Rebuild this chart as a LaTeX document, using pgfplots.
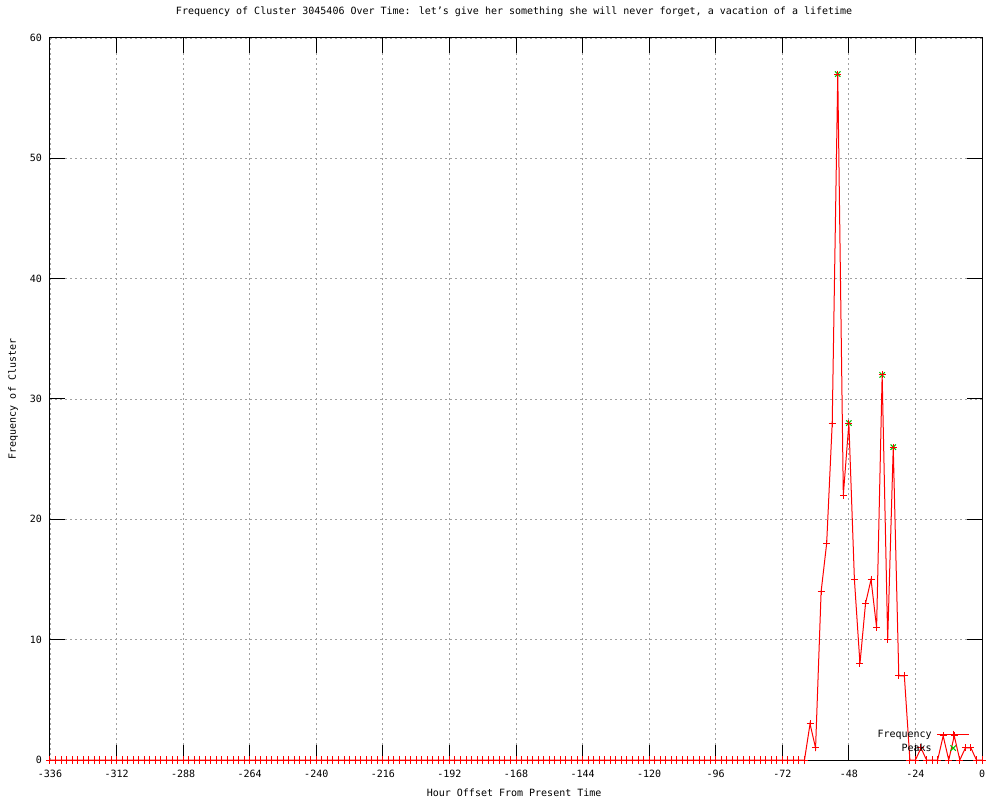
\documentclass[border=0pt]{standalone}
\usepackage{fontspec}
\setmainfont{DejaVu Sans Mono}
\usepackage{pgfplots}
\pgfplotsset{compat=1.18}
\definecolor{gpred}{RGB}{255,0,0}
\definecolor{gpgreen}{RGB}{0,192,0}
\definecolor{gpgrid}{RGB}{160,160,160}
\pgfplotsset{
  major tick length=15bp,
  freqleg/.style={legend image code/.code={\draw[##1] (0bp,0bp) -- (32bp,0bp); \draw[##1] plot coordinates {(16bp,0bp)};}},
  peakleg/.style={legend image code/.code={\draw[##1] plot[only marks] coordinates {(16bp,0bp)};}},
}
\begin{document}
\begin{tikzpicture}
\begin{axis}[
  at={(50bp,40bp)}, anchor=south west,
  scale only axis, width=932bp, height=722bp,
  xmin=-336, xmax=0, ymin=0, ymax=60,
  xtick={-336,-312,...,0}, ytick={0,10,...,60},
  font=\fontsize{10bp}{12bp}\selectfont,
  /pgf/number format/assume math mode=true,
  grid=major,
  major grid style={gpgrid, line width=0.8bp, dash pattern=on 2bp off 3bp},
  axis line style={line width=1bp, black},
  major tick length=15bp,
  tick style={black, line width=1bp},
  xticklabel style={anchor=north, inner sep=0pt, yshift=-10bp},
  yticklabel style={anchor=east, inner sep=0pt, xshift=-8bp},
  title={Frequency of Cluster 3045406 Over Time: let’s give her something she will never forget, a vacation of a lifetime},
  title style={at={(axis description cs:0.498,1.0277)}, anchor=center, inner sep=0pt},
  xlabel={Hour Offset From Present Time},
  xlabel style={at={(axis description cs:0.498,-0.0457)}, anchor=center, inner sep=0pt},
  ylabel={Frequency of Cluster},
  ylabel style={at={(axis description cs:-0.0397,0.5)}, anchor=center, inner sep=0pt},
  clip=false,
  reverse legend,
  legend plot pos=right,
  legend cell align=right,
  legend style={at={(rel axis cs:0.987,0.0435)}, anchor=north east, draw=none, fill=none,
    inner sep=0pt, row sep=3bp, column sep=4bp, nodes={inner sep=1bp}},
]
\addplot[gpgreen, only marks, mark=x, mark size=3.8bp, line width=1bp, peakleg]
  coordinates {(-52,57) (-48,28) (-36,32) (-32,26)};
\addlegendentry{Peaks}
\addplot[gpred, line width=1bp, mark=+, mark size=3.5bp, freqleg]
  coordinates {
  (-336,0) (-334,0) (-332,0) (-330,0) (-328,0) (-326,0) (-324,0) (-322,0)
  (-320,0) (-318,0) (-316,0) (-314,0) (-312,0) (-310,0) (-308,0) (-306,0)
  (-304,0) (-302,0) (-300,0) (-298,0) (-296,0) (-294,0) (-292,0) (-290,0)
  (-288,0) (-286,0) (-284,0) (-282,0) (-280,0) (-278,0) (-276,0) (-274,0)
  (-272,0) (-270,0) (-268,0) (-266,0) (-264,0) (-262,0) (-260,0) (-258,0)
  (-256,0) (-254,0) (-252,0) (-250,0) (-248,0) (-246,0) (-244,0) (-242,0)
  (-240,0) (-238,0) (-236,0) (-234,0) (-232,0) (-230,0) (-228,0) (-226,0)
  (-224,0) (-222,0) (-220,0) (-218,0) (-216,0) (-214,0) (-212,0) (-210,0)
  (-208,0) (-206,0) (-204,0) (-202,0) (-200,0) (-198,0) (-196,0) (-194,0)
  (-192,0) (-190,0) (-188,0) (-186,0) (-184,0) (-182,0) (-180,0) (-178,0)
  (-176,0) (-174,0) (-172,0) (-170,0) (-168,0) (-166,0) (-164,0) (-162,0)
  (-160,0) (-158,0) (-156,0) (-154,0) (-152,0) (-150,0) (-148,0) (-146,0)
  (-144,0) (-142,0) (-140,0) (-138,0) (-136,0) (-134,0) (-132,0) (-130,0)
  (-128,0) (-126,0) (-124,0) (-122,0) (-120,0) (-118,0) (-116,0) (-114,0)
  (-112,0) (-110,0) (-108,0) (-106,0) (-104,0) (-102,0) (-100,0) (-98,0)
  (-96,0) (-94,0) (-92,0) (-90,0) (-88,0) (-86,0) (-84,0) (-82,0)
  (-80,0) (-78,0) (-76,0) (-74,0) (-72,0) (-70,0) (-68,0) (-66,0)
  (-64,0) (-62,3) (-60,1) (-58,14) (-56,18) (-54,28) (-52,57) (-50,22)
  (-48,28) (-46,15) (-44,8) (-42,13) (-40,15) (-38,11) (-36,32) (-34,10)
  (-32,26) (-30,7) (-28,7) (-26,0) (-24,0) (-22,1) (-20,0) (-18,0)
  (-16,0) (-14,2) (-12,0) (-10,2) (-8,0) (-6,1) (-4,1) (-2,0) (0,0)
  };
\addlegendentry{Frequency}
\end{axis}
\pgfresetboundingbox
\useasboundingbox (0,0) rectangle (1000bp,800bp);
\end{tikzpicture}
\end{document}
